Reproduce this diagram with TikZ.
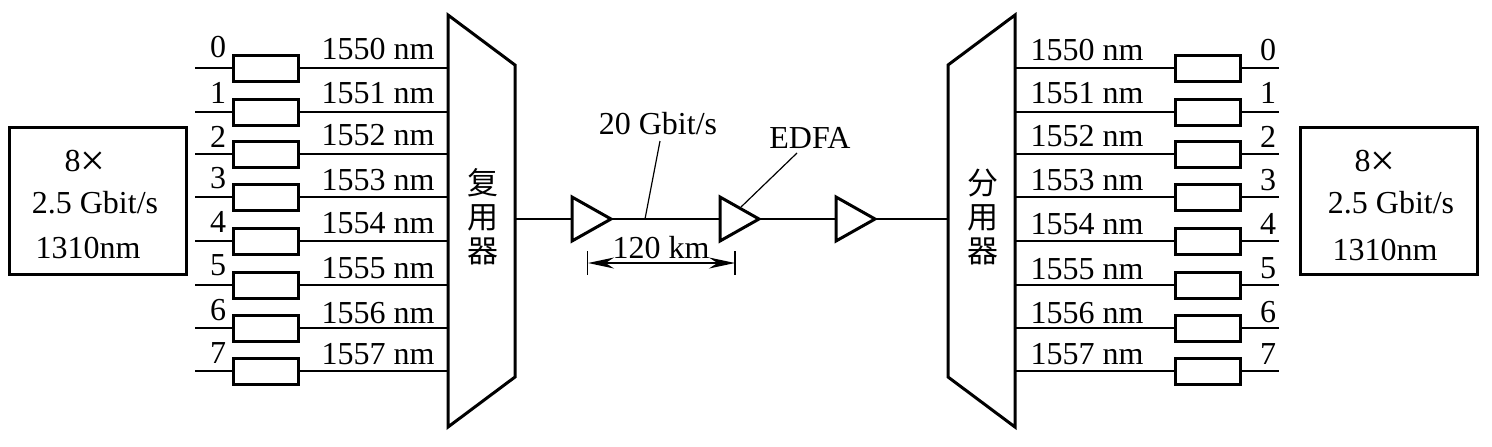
\documentclass[tikz,border=0pt]{standalone}
\usepackage{fontspec}
\setmainfont{Liberation Serif}
\newfontfamily\cjk{Noto Sans CJK SC}
\usepackage{tikz}
\usetikzlibrary{shapes.geometric,arrows.meta}
\newcommand{\bigtimes}{\raisebox{-1.8pt}{\fontsize{22}{22}\selectfont ×}}
\tikzset{
  thickline/.style={line width=1.5pt},
  thinline/.style={line width=0.6pt},
  filterbox/.style={draw,thickline,fill=white,minimum width=32.5pt,minimum height=13pt,inner sep=0pt},
  ampbox/.style={draw,thickline,isosceles triangle,isosceles triangle stretches,minimum height=19.5pt,minimum width=22pt,inner sep=0pt,outer sep=0pt,anchor=lower side},
  termbox/.style={draw,thickline,minimum width=88.5pt,minimum height=73.5pt,inner sep=0pt},
  lbl/.style={font=\fontsize{16}{17}\selectfont,inner sep=0pt},
  cjklbl/.style={font=\cjk\fontsize{15.5}{17}\selectfont,align=center,inner sep=0pt}
}
\begin{document}
\begin{tikzpicture}[x=0.5pt,y=-0.5pt]
    \useasboundingbox (0,0) rectangle (1492,446);
    % terminals
    \node[termbox] (srcbox) at (97.5,200.5) {};
    \node[termbox] (sinkbox) at (1389,200.5) {};
    \node[lbl] (srca) at (85,163) {8\bigtimes};
    \node[lbl] (srcb) at (95,203) {2.5 Gbit/s};
    \node[lbl] (srcc) at (88,248) {1310nm};
    \node[lbl] (sinka) at (1375,163) {8\bigtimes};
    \node[lbl] (sinkb) at (1391,203) {2.5 Gbit/s};
    \node[lbl] (sinkc) at (1385,250) {1310nm};
    % mux and demux
    \draw[thickline,line join=miter] (448,15) coordinate (muxtop) -- (515,65) -- (515,377) -- (448,427) -- cycle;
    \draw[thickline,line join=miter] (1015,15) coordinate (dmxtop) -- (948,65) -- (948,377) -- (1015,427) -- cycle;
    \coordinate (muxout) at (515,219);
    \coordinate (dmxin) at (948,219);
    \node[cjklbl] (muxlbl) at (483,217) {复\\用\\器};
    \node[cjklbl] (dmxlbl) at (983,217) {分\\用\\器};
    % channels
    \foreach \i/\y/\a/\b/\c/\d in {0/68/47/49/50/50,1/112/93/93/93/93,2/154/137/135/136/137,3/197/178/180/180/180,
      4/241/222/223/224/224,5/285/265/268/269/268,6/328/310/313/313/312,7/371/353/354/354/354} {
      \coordinate (in\i) at (195,\y);
      \coordinate (out\i) at (1279,\y);
      \node[filterbox] (fl\i) at (265.5,\y) {};
      \node[filterbox] (fr\i) at (1207.5,\y) {};
      \draw[thinline] (in\i) -- (fl\i);
      \draw[thinline] (fl\i) -- (fl\i.east -| muxtop);
      \draw[thinline] (fr\i.west -| dmxtop) -- (fr\i);
      \draw[thinline] (fr\i) -- (out\i);
      \node[lbl] (nl\i) at (218,\a) {\i};
      \pgfmathtruncatemacro{\nm}{1550+\i}
      \node[lbl] (wl\i) at (378,\b) {\nm{} nm};
      \node[lbl] (wr\i) at (1087,\c) {\nm{} nm};
      \node[lbl] (nr\i) at (1268,\d) {\i};
    }
    % line amplifiers
    \node[ampbox] (ampa) at (572,219) {};
    \node[ampbox] (ampb) at (720,219) {};
    \node[ampbox] (ampc) at (836,219) {};
    \draw[thinline] (muxout) -- (ampa.lower side);
    \draw[thinline] (ampa.apex) -- (ampb.lower side);
    \draw[thinline] (ampb.apex) -- (ampc.lower side);
    \draw[thinline] (ampc.apex) -- (dmxin);
    % labels on the span
    \node[lbl] (rate) at (658,124) {20 Gbit/s};
    \node[lbl] (edfa) at (810,138) {EDFA};
    \node[lbl] (span) at (661,248) {120 km};
    \coordinate (ratea) at (660,141);
    \coordinate (rateb) at (645,219);
    \coordinate (edfaa) at (797,153);
    \coordinate (edfab) at (741,207);
    \draw[thinline] (ratea) -- (rateb);
    \draw[thinline] (edfaa) -- (edfab);
    \coordinate (spanl) at (588,263);
    \coordinate (spanr) at (735,263);
    \draw[thinline] (587.5,251) -- (587.5,275);
    \draw[thinline] (735,251) -- (735,275);
    \draw[line width=0.9pt,{Stealth[length=13pt,width=5.5pt]}-{Stealth[length=13pt,width=5.5pt]}] (spanl) -- (spanr);
  \end{tikzpicture}
\end{document}
